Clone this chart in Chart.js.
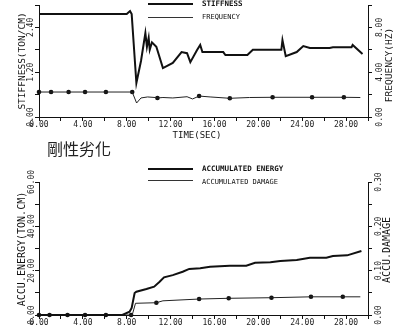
<!DOCTYPE html>
<html><head><meta charset="utf-8">
<script src="https://cdn.jsdelivr.net/npm/chart.js@4"></script>
<style>
html,body{margin:0;padding:0;background:#fff;}
#wrap{position:relative;width:400px;height:330px;overflow:hidden;background:#fff;font-family:'DejaVu Sans Mono',monospace;color:#111;}
canvas{position:absolute;left:0;}
.t{position:absolute;white-space:nowrap;line-height:1;}
.rot{transform:translate(-50%,-50%) rotate(-90deg);}
.mid{transform:translate(0,-50%);}
.ctr{transform:translate(-50%,-50%);}
.ln{position:absolute;background:#111;}
</style></head><body>
<div id="wrap">
<canvas id="c1" width="400" height="140" style="top:0"></canvas>
<canvas id="c2" width="400" height="165" style="top:165px"></canvas>

<div class="ln" style="left:148px;top:3px;width:45px;height:2px"></div>
<div class="t mid" style="left:202px;top:4px;font-size:7.5px;font-weight:bold">STIFFNESS</div>
<div class="ln" style="left:148px;top:17px;width:45px;height:1px;background:#333"></div>
<div class="t mid" style="left:202px;top:17px;font-size:7px">FREQUENCY</div>

<div class="t rot" style="left:22px;top:61px;font-size:9.5px">STIFFNESS(TON/CM)</div>
<div class="t rot" style="left:389px;top:65px;font-size:9.5px">FREQUENCY(HZ)</div>
<div class="t ctr" style="left:197px;top:135px;font-size:9px">TIME(SEC)</div>

<div class="t" style="left:47px;top:140px;font-size:16px;font-family:'Noto Sans CJK TC';color:#222">剛性劣化</div>

<div class="ln" style="left:148px;top:168px;width:45px;height:2px"></div>
<div class="t mid" style="left:202px;top:169px;font-size:7.5px;font-weight:bold">ACCUMULATED ENERGY</div>
<div class="ln" style="left:148px;top:180px;width:45px;height:1px;background:#333"></div>
<div class="t mid" style="left:202px;top:181.5px;font-size:7px">ACCUMULATED DAMAGE</div>

<div class="t rot" style="left:22px;top:249px;font-size:10px">ACCU.ENERGY(TON.CM)</div>
<div class="t rot" style="left:387px;top:250px;font-size:10px">ACCU.DAMAGE</div>
</div>
<script>
// ---- data (time in SEC) ----
const stiffT = [0, 8.0, 8.3, 8.45, 8.88, 9.3, 9.7, 9.84, 10.0, 10.1, 10.3, 10.7, 11.3, 12.2, 13.0, 13.5, 13.8, 14.4, 14.7, 14.9, 16.8, 17.0, 19.0, 19.5, 22.1, 22.2, 22.5, 23.5, 24.1, 24.7, 26.5, 26.8, 28.5, 28.6, 29.5];
const stiffV = [2.76, 2.76, 2.84, 2.76, 0.91, 1.5, 2.25, 1.88, 2.12, 1.8, 2.0, 1.88, 1.31, 1.45, 1.74, 1.71, 1.47, 1.79, 1.93, 1.74, 1.74, 1.66, 1.66, 1.8, 1.8, 2.06, 1.63, 1.74, 1.9, 1.85, 1.85, 1.87, 1.87, 1.93, 1.69];

const freqT = [0, 8.5, 8.9, 9.3, 9.9, 10.6, 10.8, 11.3, 12.2, 13.5, 14.0, 14.6, 15.6, 17.4, 19.2, 21.3, 24.9, 27.8, 29.3];
const freqV = [2.23, 2.23, 1.25, 1.7, 1.79, 1.74, 1.7, 1.74, 1.7, 1.81, 1.61, 1.87, 1.79, 1.67, 1.74, 1.76, 1.76, 1.76, 1.74];
const freqMarkT = [0, 1.1, 2.7, 4.2, 6.1, 8.5, 10.8, 14.6, 17.4, 21.3, 24.9, 27.8];
const freqMarkV = [2.23, 2.23, 2.23, 2.23, 2.23, 2.23, 1.7, 1.87, 1.67, 1.76, 1.76, 1.76];

const energyT = [0, 7.6, 8.26, 8.45, 8.72, 8.88, 9.8, 10.5, 11.0, 11.4, 12.2, 13.1, 13.7, 14.7, 15.6, 17.4, 18.9, 19.7, 21.1, 22.0, 23.5, 24.7, 26.2, 26.8, 28.1, 29.4];
const energyV = [0, 0, 1.5, 3.2, 9.9, 10.5, 11.7, 12.8, 15.0, 17.0, 18.0, 19.5, 20.8, 21.1, 21.8, 22.2, 22.2, 23.6, 23.8, 24.4, 24.8, 25.8, 25.8, 26.6, 26.9, 28.9];

const damageT = [0, 8.5, 8.8, 10.7, 11.3, 14.6, 17.3, 21.2, 24.8, 27.7, 29.3];
const damageV = [0, 0, 0.0264, 0.0277, 0.032, 0.036, 0.0377, 0.039, 0.041, 0.041, 0.041];
const damageMarkT = [0, 0.96, 2.6, 4.2, 6.1, 8.4, 10.7, 14.6, 17.3, 21.2, 24.8, 27.7];
const damageMarkV = [0, 0, 0, 0, 0, 0, 0.0277, 0.036, 0.0377, 0.039, 0.041, 0.041];

// axis ranges / ticks
const timeRange = [0, 30], timeStep = 2;
const stiffRange = [0, 3], stiffStep = 0.6;
const freqRange = [0, 10], freqStep = 2;
const energyRange = [0, 60], energyStep = 10;
const damageRange = [0, 0.3], damageStep = 0.05;

const zip = (a, b) => a.map((x, i) => ({x, y: b[i]}));
const FONT = {family: "'DejaVu Sans Mono', monospace", size: 8};
const INK = '#111';

function xScale(h) {
  return {
    type: 'linear', position: 'bottom', min: timeRange[0], max: timeRange[1],
    ticks: {stepSize: timeStep, autoSkip: false, maxRotation: 0, minRotation: 0, padding: -1, color: '#222', font: FONT,
      callback: v => (Math.abs(v % 4) < 1e-6 && v < 29) ? v.toFixed(2) : ''},
    grid: {drawOnChartArea: false, drawTicks: true, tickLength: 4, color: INK},
    border: {display: true, color: INK, width: 1},
    afterFit: s => { s.height = h; }
  };
}
function yScale(pos, range, step, w, pad) {
  return {
    type: 'linear', position: pos, min: range[0], max: range[1],
    ticks: {stepSize: step, autoSkip: false, minRotation: 90, maxRotation: 90, crossAlign: 'center', padding: pad, color: '#222', font: FONT,
      callback: (v, i) => i % 2 === 0 ? v.toFixed(2) : ''},
    grid: {drawOnChartArea: false, drawTicks: true, tickLength: 4, color: INK},
    border: {display: true, color: INK, width: 1},
    afterFit: s => { s.width = w; }
  };
}
const lineDs = (data, w, axis, col) => ({data, borderColor: col, borderWidth: w, pointRadius: 0, tension: 0, yAxisID: axis, clip: false, fill: false});
const markDs = (data, axis) => ({data, showLine: false, pointRadius: 2.3, pointBackgroundColor: INK, pointBorderColor: INK, pointBorderWidth: 0, yAxisID: axis, clip: false});

const common = (top) => ({
  responsive: false, animation: false, devicePixelRatio: 1,
  layout: {padding: {top, left: 0, right: 0, bottom: 0}},
  plugins: {legend: {display: false}, tooltip: {enabled: false}}
});

new Chart(document.getElementById('c1'), {
  type: 'line',
  data: {datasets: [
    lineDs(zip(stiffT, stiffV), 2, 'y', INK),
    lineDs(zip(freqT, freqV), 1, 'y2', '#222'),
    markDs(zip(freqMarkT, freqMarkV), 'y2')
  ]},
  options: Object.assign(common(5), {
    scales: {
      x: xScale(23),
      y: yScale('left', stiffRange, stiffStep, 39, -5.6),
      y2: yScale('right', freqRange, freqStep, 32, -2.1)
    }
  })
});

new Chart(document.getElementById('c2'), {
  type: 'line',
  data: {datasets: [
    lineDs(zip(energyT, energyV), 2, 'y', INK),
    lineDs(zip(damageT, damageV), 1, 'y2', '#222'),
    markDs(zip(damageMarkT, damageMarkV), 'y2')
  ]},
  options: Object.assign(common(17), {
    scales: {
      x: xScale(15),
      y: yScale('left', energyRange, energyStep, 39, -8.5),
      y2: yScale('right', damageRange, damageStep, 32, -3.1)
    }
  })
});
</script>
</body></html>
